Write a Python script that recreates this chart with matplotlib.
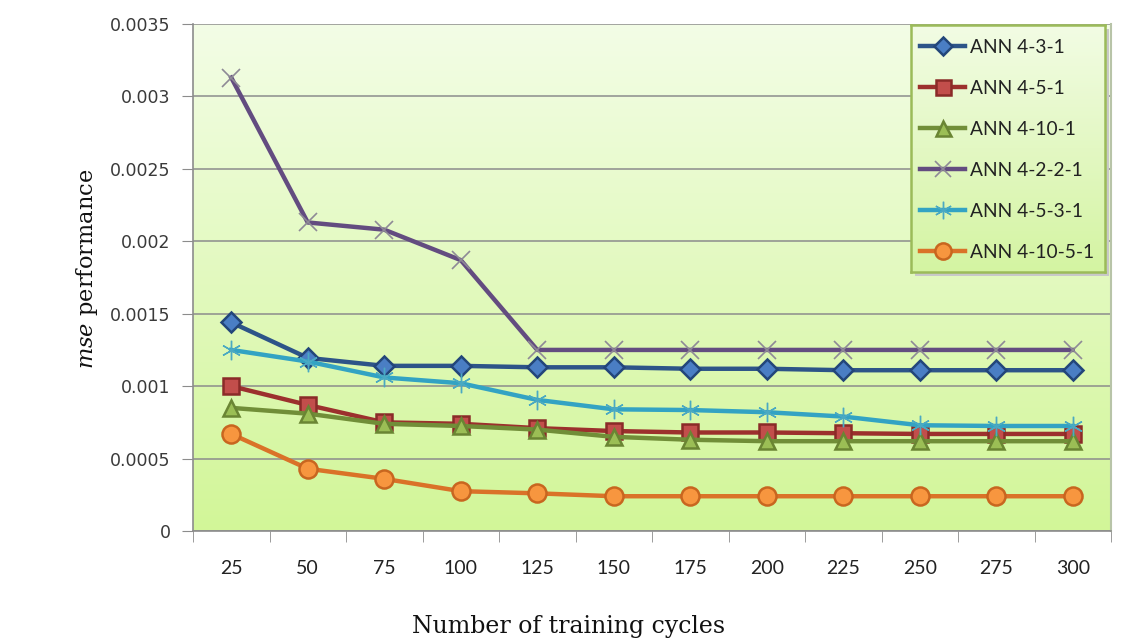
import numpy as np
import matplotlib
matplotlib.use("Agg")
import matplotlib.pyplot as plt
from matplotlib.patches import Rectangle
from matplotlib.lines import Line2D

plt.rcParams["mathtext.fontset"] = "custom"
plt.rcParams["mathtext.it"] = "DejaVu Serif:italic"
plt.rcParams["mathtext.rm"] = "DejaVu Serif"

# Training cycles (categories) and MSE for each network topology
cycles = ["25", "50", "75", "100", "125", "150", "175", "200", "225", "250", "275", "300"]

ann_4_3_1 = [0.00144, 0.001195, 0.00114, 0.00114, 0.00113, 0.00113, 0.00112, 0.00112, 0.00111, 0.00111, 0.00111, 0.00111]
ann_4_5_1 = [0.00100, 0.00087, 0.00075, 0.00074, 0.00071, 0.00069, 0.00068, 0.00068, 0.000675, 0.00067, 0.00067, 0.00067]
ann_4_10_1 = [0.00085, 0.00081, 0.00074, 0.000725, 0.00070, 0.00065, 0.00063, 0.00062, 0.00062, 0.00062, 0.00062, 0.00062]
ann_4_2_2_1 = [0.00313, 0.00213, 0.00208, 0.00187, 0.00125, 0.00125, 0.00125, 0.00125, 0.00125, 0.00125, 0.00125, 0.00125]
ann_4_5_3_1 = [0.00125, 0.00117, 0.00106, 0.00102, 0.000905, 0.00084, 0.000835, 0.00082, 0.00079, 0.00073, 0.000725, 0.000725]
ann_4_10_5_1 = [0.00067, 0.00043, 0.00036, 0.000275, 0.00026, 0.00024, 0.00024, 0.00024, 0.00024, 0.00024, 0.00024, 0.00024]

series_labels = ["ANN 4-3-1", "ANN 4-5-1", "ANN 4-10-1", "ANN 4-2-2-1", "ANN 4-5-3-1", "ANN 4-10-5-1"]
y_ticks = [0, 0.0005, 0.001, 0.0015, 0.002, 0.0025, 0.003, 0.0035]
y_tick_labels = ["0", "0.0005", "0.001", "0.0015", "0.002", "0.0025", "0.003", "0.0035"]

styles = [
    dict(color="#2D5488", marker="D", ms=10, mfc="#4A7EC4", mec="#23467A", mew=1.8),
    dict(color="#9C302D", marker="s", ms=12, mfc="#C24E4B", mec="#8A2B28", mew=1.8),
    dict(color="#718E38", marker="^", ms=12, mfc="#9BBE55", mec="#6A8533", mew=1.8),
    dict(color="#634C80", marker="x", ms=13, mfc="none", mec="#8E8A96", mew=1.2),
    dict(color="#33A3C3", marker=(6, 2, 0), ms=14, mfc="none", mec="#4AA9C2", mew=1.0),
    dict(color="#DA7228", marker="o", ms=13, mfc="#F7963F", mec="#C8661F", mew=1.8),
]
series = [ann_4_3_1, ann_4_5_1, ann_4_10_1, ann_4_2_2_1, ann_4_5_3_1, ann_4_10_5_1]

W, H = 1135, 641
fig = plt.figure(figsize=(W / 100, H / 100), dpi=100)
fig.patch.set_facecolor("white")

L, R, T, B = 193, 1111, 24, 531
ax = fig.add_axes([L / W, 1 - B / H, (R - L) / W, (B - T) / H])

# Soft vertical gradient in the plot area
top_c = np.array([243, 253, 230]) / 255
bot_c = np.array([210, 246, 152]) / 255
t = np.linspace(0, 1, 256)[:, None]
grad = (top_c[None, :] * (1 - t) + bot_c[None, :] * t)[:, None, :]
ax.imshow(grad, extent=[0, 1, 0, 1], transform=ax.transAxes, aspect="auto",
          zorder=0, interpolation="bilinear")

x = np.arange(len(cycles))
for vals, lab, st in zip(series, series_labels, styles):
    ax.plot(x, vals, lw=3.2, label=lab, zorder=3, solid_joinstyle="round", **st)

ax.set_xlim(-0.5, len(cycles) - 0.5)
ax.set_ylim(0, 0.0035)
ax.set_yticks(y_ticks)
ax.set_yticklabels(y_tick_labels, fontfamily="DejaVu Sans", fontsize=12.5, color="#3A3A3A")
ax.yaxis.grid(True, color="#8C8C8C", lw=1.1, zorder=1)
ax.set_axisbelow(True)

ax.set_xticks(x)
ax.set_xticklabels(cycles, fontfamily="Lato", fontsize=14, color="#222222")
ax.set_xticks(np.arange(-0.5, len(cycles)), minor=True)
ax.tick_params(axis="x", which="major", length=0, pad=21)
ax.tick_params(axis="x", which="minor", length=8, color="#8C8C8C", direction="out")
ax.tick_params(axis="y", length=8, color="#8C8C8C", pad=8, direction="out")

for s in ["left", "bottom"]:
    ax.spines[s].set_color("#8C8C8C")
    ax.spines[s].set_linewidth(1.2)
ax.spines["top"].set_visible(False)
ax.spines["right"].set_color("#B8C4A8")
ax.spines["right"].set_linewidth(1.5)

fig.text(569 / W, 1 - 627 / H, "Number of training cycles", ha="center", va="center",
         fontfamily="DejaVu Serif", fontsize=17, color="#111111")
fig.text(87 / W, 1 - 269 / H, r"$\mathit{mse}$ performance", ha="center", va="center",
         rotation=90, fontfamily="DejaVu Serif", fontsize=16.2, color="#111111")

# Legend panel with drop shadow and gradient fill
lx0, lx1, ly0, ly1 = 911, 1105, 25, 272
fig.patches.append(Rectangle(((lx0 + 4) / W, 1 - (ly1 + 4) / H), (lx1 - lx0) / W, (ly1 - ly0) / H,
                             transform=fig.transFigure, facecolor="#C8C8C8", edgecolor="none",
                             zorder=5))
lax = fig.add_axes([lx0 / W, 1 - ly1 / H, (lx1 - lx0) / W, (ly1 - ly0) / H], zorder=6)
lgrad = (np.array([242, 252, 228]) / 255 * (1 - t) + np.array([212, 244, 162]) / 255 * t)[:, None, :]
lax.imshow(lgrad, extent=[0, 1, 0, 1], aspect="auto", interpolation="bilinear")
lax.set_xlim(0, 1)
lax.set_ylim(0, 1)
lax.set_xticks([])
lax.set_yticks([])
for s in lax.spines.values():
    s.set_color("#9BBB59")
    s.set_linewidth(1.8)

handles = [Line2D([], [], lw=3.2, **{**st, "ms": st["ms"] * 0.9}) for st in styles]
leg = lax.legend(handles, series_labels, loc="center left", frameon=False,
                 bbox_to_anchor=(-0.04, 0.495), handlelength=2.3, handletextpad=0.3,
                 labelspacing=1.25, prop={"family": "Lato", "size": 13.8})
for txt in leg.get_texts():
    txt.set_color("#222222")

fig.savefig("out.png", dpi=100)
